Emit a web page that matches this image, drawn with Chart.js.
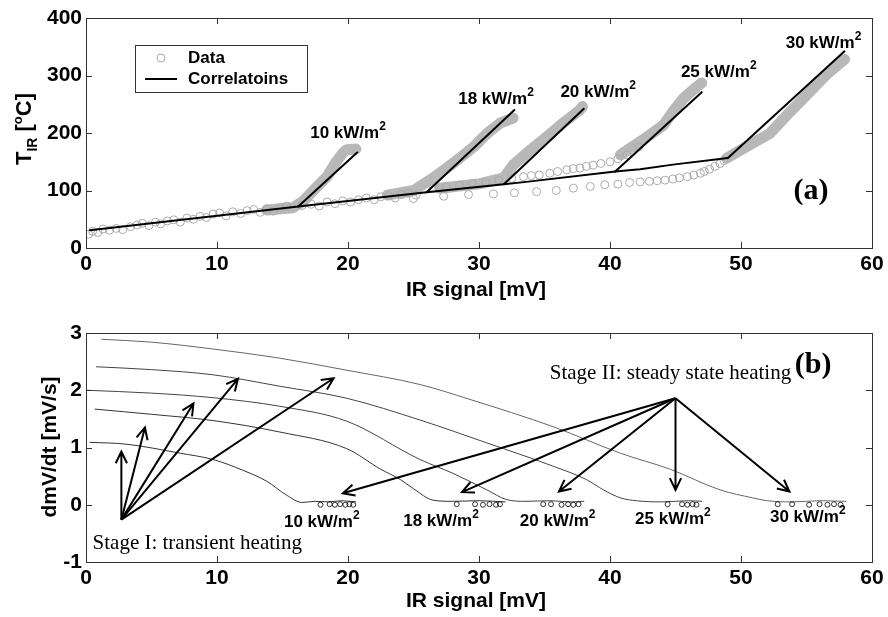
<!DOCTYPE html>
<html>
<head>
<meta charset="utf-8">
<script src="https://cdn.jsdelivr.net/npm/chart.js@4.4.0/dist/chart.umd.min.js"></script>
<style>
  body { margin: 0; background: #fff; width: 888px; height: 617px; overflow: hidden; }
  canvas { position: absolute; left: 0; }
  #topCanvas { top: 0; }
  #botCanvas { top: 300px; }
</style>
</head>
<body>
<canvas id="topCanvas" width="888" height="300"></canvas>
<canvas id="botCanvas" width="888" height="317"></canvas>
<script>
// Axis ticks
var xTicks    = [0, 10, 20, 30, 40, 50, 60];
var topYTicks = [0, 100, 200, 300, 400];
var botYTicks = [-1, 0, 1, 2, 3];

// Heat flux cases (kW/m2)
var fluxes = ["10", "18", "20", "25", "30"];

// (a) measured data, hollow circles [mV, degC]
var dataBase = [[0.2,24],[0.5,29],[0.9,27],[1.3,33],[1.8,31],[2.3,34],[2.8,32],[3.4,37],[3.9,40],[4.3,43],
  [4.8,39],[5.3,45],[5.7,42],[6.2,47],[6.7,49],[7.2,45],[7.7,52],[8.2,50],[8.7,55],[9.2,53],[9.7,59],
  [10.2,61],[10.7,56],[11.2,63],[11.8,60],[12.3,65],[12.8,67],[13.3,62],[13.8,68],[14.3,64],[14.8,70],
  [15.3,73],[16.5,74],[17.2,76],[17.8,73],[18.4,80],[19.0,77],[19.6,82],[20.2,80],[20.8,84],[21.4,87],
  [22.0,84],[22.5,89],[23.1,91],[23.6,87],[24.1,93],[24.6,95],[25.2,92]];
var dataLow = [[25.0,86],[27.3,90],[29.2,93],[31.1,94],[32.7,96],[34.4,98],[35.9,100],[37.2,104],[38.5,107],
  [39.6,110],[40.6,111],[41.5,114],[42.3,115],[43.0,116],[43.6,117],[44.2,118],[44.8,120],[45.3,122],
  [45.9,124],[46.4,127],[46.9,130],[47.2,133],[47.6,137],[48.0,142],[48.4,147],[48.7,152]];
var dataUp = [[26.5,104],[27.5,106],[28.5,109],[29.5,112],[30.5,114],[31.5,118],[32.5,121],[33.4,124],
  [34.0,126],[34.6,127],[35.4,130],[36.0,133],[36.7,136],[37.2,138],[37.7,139],[38.2,142],[38.7,144],
  [39.3,147],[40.0,150],[40.6,155],[41.3,162],[42.2,176]];

// (a) dense data bands of each heating run
var band10 = [[13.8,66],[15.8,70],[16.6,82],[17.4,101],[18.0,115],[18.4,124],[19.1,150],[19.6,165],[19.9,171],[20.6,172]];
var band18 = [[23.0,92],[25.0,100],[26.5,122],[28.0,147],[29.6,176],[30.6,199],[31.6,217],[32.6,226]];
var band20 = [[27.0,104],[30.1,112],[31.9,122],[32.6,144],[33.9,170],[35.2,194],[36.4,217],[37.7,240],[37.9,246]];
var band25 = [[40.8,162],[42.5,188],[44.1,214],[44.8,237],[45.6,260],[46.6,280],[47.0,287]];
var band30 = [[48.9,156],[50.4,176],[52.2,199],[53.5,231],[55.0,266],[56.5,301],[57.9,328]];

// (a) correlations
var corrBase = [[0.3,31],[16.2,72],[26,97],[31.9,111],[33.6,115],[40.4,133],[42.3,137],[44.8,145],[49,156.5]];
var corr10 = [[16.2,72],[20.7,166]];
var corr18 = [[26,97],[32.7,240]];
var corr20 = [[31.9,111],[38,242]];
var corr25 = [[40.4,133],[47,271]];
var corr30 = [[49,156.5],[57.9,342]];

// (b) dmV/dt curves [mV, mV/s]
var rate10 = [[0.3,1.09],[3,1.06],[7.2,0.9],[9.7,0.79],[12,0.6],[13.8,0.41],[15.3,0.17],[16.5,0.04],
  [17.5,0.06],[18.5,0.05],[19.5,0.07],[20.6,0.05]];
var rate18 = [[0.7,1.67],[5,1.58],[9.7,1.47],[14.8,1.27],[19.9,0.98],[22.5,0.62],[24,0.44],[25,0.28],
  [26.5,0.08],[28,0.06],[30,0.07],[32,0.05]];
var rate20 = [[0,2.0],[5,1.95],[9.7,1.87],[14.8,1.72],[19.9,1.46],[25.5,0.79],[28,0.55],[30.6,0.26],
  [32.1,0.09],[33.5,0.06],[35.5,0.07],[37,0.05],[38,0.06]];
var rate25 = [[0.8,2.41],[5,2.36],[9.7,2.27],[14.8,2.07],[19.9,1.86],[25.5,1.48],[30.6,1.08],[35.7,0.67],
  [38.2,0.44],[39.5,0.26],[40.8,0.12],[42,0.07],[44,0.05],[46,0.07],[47,0.06]];
var rate30 = [[1.2,2.89],[5,2.84],[9.7,2.72],[14.8,2.56],[19.9,2.35],[25.5,2.1],[29.3,1.84],[35.7,1.36],
  [40.8,0.9],[44.6,0.62],[48.4,0.26],[50.9,0.12],[52,0.07],[54,0.05],[56,0.07],[58,0.06]];

// (b) end-of-run scatter near zero
var rateEnd = [[17.9,0],[18.6,0.01],[19.0,0],[19.4,0.01],[19.8,0],[20.1,0.01],[20.4,0],
  [28.3,0.01],[29.7,0.01],[30.3,0],[30.8,0.01],[31.3,0],[31.6,0.01],
  [34.9,0.01],[35.5,0.01],[36.3,0],[36.8,0.01],[37.2,0],[37.6,0.01],
  [44.4,0.01],[45.5,0.01],[45.9,0],[46.3,0.01],[46.6,0],
  [52.8,0.01],[53.9,0.01],[55.2,0],[56.0,0.01],[56.6,0],[57.1,0.01],[57.6,0]];

// (b) arrows: tail -> heads
var stage1Tail  = [2.7, -0.26];
var stage1Heads = [[2.7,0.93],[4.5,1.35],[8.2,1.77],[11.6,2.2],[18.9,2.21]];
var stage2Tail  = [45.0, 1.86];
var stage2Heads = [[19.6,0.2],[28.7,0.22],[36.1,0.23],[45.0,0.26],[53.7,0.23]];

var SANS  = "'Liberation Sans', Arial, Helvetica, sans-serif";
var SERIF = "'Liberation Serif', 'Times New Roman', serif";
var GREY  = "#b8b8b8";

function pts(arr) {
  return arr.map(function (p) { return { x: p[0], y: p[1] }; });
}

function lineSet(label, arr, color, width, order) {
  return {
    label: label, data: pts(arr), showLine: true, pointRadius: 0,
    borderColor: color, borderWidth: width, order: order,
    borderCapStyle: "round", borderJoinStyle: "round", fill: false
  };
}

function curveSet(label, arr, color) {
  var ds = lineSet(label, arr, color, 1, 1);
  ds.cubicInterpolationMode = "monotone";
  return ds;
}

function xAxis(height) {
  return {
    type: "linear", min: 0, max: 60,
    afterBuildTicks: function (s) { s.ticks = xTicks.map(function (v) { return { value: v }; }); },
    afterFit: function (s) { s.height = height; },
    grid: { display: false, drawTicks: false }, border: { display: false },
    ticks: { color: "#000", padding: 4, maxRotation: 0, font: { family: SANS, size: 21, weight: "bold" } }
  };
}

function yAxis(vals) {
  return {
    type: "linear", min: vals[0], max: vals[vals.length - 1],
    afterBuildTicks: function (s) { s.ticks = vals.map(function (v) { return { value: v }; }); },
    afterFit: function (s) { s.width = 86; },
    grid: { display: false, drawTicks: false }, border: { display: false },
    ticks: { color: "#000", padding: 4, font: { family: SANS, size: 21, weight: "bold" } }
  };
}

// Box with inward ticks on all four sides
function drawFrame(chart, yVals) {
  var ctx = chart.ctx, a = chart.chartArea;
  var xs = chart.scales.x, ys = chart.scales.y;
  ctx.save();
  ctx.strokeStyle = "#333";
  ctx.lineWidth = 1;
  ctx.strokeRect(a.left + 0.5, a.top + 0.5, a.right - a.left, a.bottom - a.top);
  ctx.beginPath();
  xTicks.forEach(function (v) {
    var px = Math.round(xs.getPixelForValue(v)) + 0.5;
    ctx.moveTo(px, a.bottom); ctx.lineTo(px, a.bottom - 6);
    ctx.moveTo(px, a.top); ctx.lineTo(px, a.top + 6);
  });
  yVals.forEach(function (v) {
    var py = Math.round(ys.getPixelForValue(v)) + 0.5;
    ctx.moveTo(a.left, py); ctx.lineTo(a.left + 6, py);
    ctx.moveTo(a.right, py); ctx.lineTo(a.right - 6, py);
  });
  ctx.stroke();
  ctx.restore();
}

// Text made of pieces with sub/superscripts, centred on cx
function drawPieces(ctx, pieces, cx, cy) {
  var total = 0;
  pieces.forEach(function (p) { ctx.font = p.f; p.w = ctx.measureText(p.t).width; total += p.w; });
  var x = cx - total / 2;
  ctx.textAlign = "left";
  pieces.forEach(function (p) {
    ctx.font = p.f;
    ctx.fillText(p.t, x, cy + (p.dy || 0));
    x += p.w;
  });
}

function fluxLabel(ctx, num, x, y) {
  ctx.textBaseline = "alphabetic";
  drawPieces(ctx, [
    { t: num + " kW/m", f: "bold 17px " + SANS },
    { t: "2", f: "bold 12px " + SANS, dy: -8 }
  ], x, y + 6);
}

function axisTitles(chart, yPieces, yBaseX, yCenter, xCenterY) {
  var ctx = chart.ctx;
  ctx.save();
  ctx.fillStyle = "#000";
  ctx.textBaseline = "middle";
  ctx.textAlign = "center";
  ctx.font = "bold 21px " + SANS;
  ctx.fillText("IR signal [mV]", 476, xCenterY);
  ctx.translate(yBaseX, yCenter);
  ctx.rotate(-Math.PI / 2);
  ctx.textBaseline = "alphabetic";
  drawPieces(ctx, yPieces, 0, 0);
  ctx.restore();
}

function drawArrow(ctx, x1, y1, x2, y2) {
  var ang = Math.atan2(y2 - y1, x2 - x1);
  var len = 13, spread = 0.45;
  ctx.beginPath();
  ctx.moveTo(x1, y1); ctx.lineTo(x2, y2);
  ctx.moveTo(x2 - len * Math.cos(ang - spread), y2 - len * Math.sin(ang - spread));
  ctx.lineTo(x2, y2);
  ctx.lineTo(x2 - len * Math.cos(ang + spread), y2 - len * Math.sin(ang + spread));
  ctx.stroke();
}

// Extra drawing for panel (a)
var topExtras = {
  id: "topExtras",
  afterDraw: function (chart) {
    var ctx = chart.ctx, xs = chart.scales.x, ys = chart.scales.y;
    drawFrame(chart, topYTicks);
    axisTitles(chart, [
      { t: "T", f: "bold 22px " + SANS },
      { t: "IR", f: "bold 14px " + SANS, dy: 6 },
      { t: " [", f: "bold 22px " + SANS },
      { t: "o", f: "bold 13px " + SANS, dy: -9 },
      { t: "C]", f: "bold 22px " + SANS }
    ], 31, 129, 290);

    ctx.save();
    ctx.fillStyle = "#000";
    var labelPos = [[20.0,202],[31.3,261],[39.1,273],[48.3,307],[56.3,359]];
    fluxes.forEach(function (f, i) {
      fluxLabel(ctx, f, xs.getPixelForValue(labelPos[i][0]), ys.getPixelForValue(labelPos[i][1]));
    });

    ctx.font = "bold 30px " + SERIF;
    ctx.textAlign = "left";
    ctx.textBaseline = "middle";
    ctx.fillText("(a)", xs.getPixelForValue(54.0), ys.getPixelForValue(99));

    // legend
    var ds = chart.data.datasets;
    ctx.fillStyle = "#fff";
    ctx.fillRect(135, 45, 172, 47);
    ctx.strokeStyle = "#333";
    ctx.lineWidth = 1;
    ctx.strokeRect(135.5, 45.5, 172, 47);
    ctx.strokeStyle = "#aaa";
    ctx.beginPath();
    ctx.arc(161, 58, 4, 0, Math.PI * 2);
    ctx.stroke();
    ctx.strokeStyle = "#000";
    ctx.lineWidth = 2;
    ctx.beginPath();
    ctx.moveTo(145, 79); ctx.lineTo(177, 79);
    ctx.stroke();
    ctx.fillStyle = "#000";
    ctx.font = "bold 17px " + SANS;
    ctx.fillText(ds[0].label, 188, 58);
    ctx.fillText(ds[6].label, 188, 79);
    ctx.restore();
  }
};

// Extra drawing for panel (b)
var botExtras = {
  id: "botExtras",
  afterDraw: function (chart) {
    var ctx = chart.ctx, xs = chart.scales.x, ys = chart.scales.y;
    drawFrame(chart, botYTicks);
    axisTitles(chart, [
      { t: "dmV/dt [mV/s]", f: "bold 21px " + SANS }
    ], 56, 147, 301);

    ctx.save();
    ctx.fillStyle = "#000";
    var labelPos = [[18.0,-0.29],[27.1,-0.26],[36.0,-0.27],[44.8,-0.23],[55.1,-0.2]];
    fluxes.forEach(function (f, i) {
      fluxLabel(ctx, f, xs.getPixelForValue(labelPos[i][0]), ys.getPixelForValue(labelPos[i][1]));
    });

    ctx.strokeStyle = "#000";
    ctx.lineWidth = 2;
    var t1x = xs.getPixelForValue(stage1Tail[0]), t1y = ys.getPixelForValue(stage1Tail[1]);
    stage1Heads.forEach(function (h) {
      drawArrow(ctx, t1x, t1y, xs.getPixelForValue(h[0]), ys.getPixelForValue(h[1]));
    });
    var t2x = xs.getPixelForValue(stage2Tail[0]), t2y = ys.getPixelForValue(stage2Tail[1]);
    stage2Heads.forEach(function (h) {
      drawArrow(ctx, t2x, t2y, xs.getPixelForValue(h[0]), ys.getPixelForValue(h[1]));
    });

    ctx.textAlign = "left";
    ctx.textBaseline = "alphabetic";
    ctx.font = "21px " + SERIF;
    ctx.fillText("Stage I: transient heating", xs.getPixelForValue(0.5), ys.getPixelForValue(-0.78));
    ctx.fillText("Stage II: steady state heating", xs.getPixelForValue(35.4), ys.getPixelForValue(2.2));
    ctx.font = "bold 30px " + SERIF;
    ctx.fillText("(b)", xs.getPixelForValue(54.1), ys.getPixelForValue(2.3));
    ctx.restore();
  }
};

// Panel (a)
new Chart(document.getElementById("topCanvas"), {
  type: "scatter",
  data: {
    datasets: [
      {
        label: "Data", data: pts(dataBase.concat(dataLow, dataUp)), order: 2,
        pointRadius: 4, pointStyle: "circle", borderColor: "#aaa",
        backgroundColor: "rgba(0,0,0,0)", borderWidth: 1
      },
      lineSet("band10", band10, GREY, 11, 3),
      lineSet("band18", band18, GREY, 11, 3),
      lineSet("band20", band20, GREY, 11, 3),
      lineSet("band25", band25, GREY, 11, 3),
      lineSet("band30", band30, GREY, 11, 3),
      lineSet("Correlatoins", corrBase, "#000", 2, 1),
      lineSet("c10", corr10, "#000", 2, 1),
      lineSet("c18", corr18, "#000", 2, 1),
      lineSet("c20", corr20, "#000", 2, 1),
      lineSet("c25", corr25, "#000", 2, 1),
      lineSet("c30", corr30, "#000", 2, 1)
    ]
  },
  options: {
    responsive: false,
    animation: false,
    layout: { padding: { left: 0, right: 16, top: 18, bottom: 0 } },
    plugins: { legend: { display: false }, tooltip: { enabled: false } },
    scales: { x: xAxis(52), y: yAxis(topYTicks) }
  },
  plugins: [topExtras]
});

// Panel (b)
new Chart(document.getElementById("botCanvas"), {
  type: "scatter",
  data: {
    datasets: [
      curveSet("10 kW/m2", rate10, "#333"),
      curveSet("18 kW/m2", rate18, "#333"),
      curveSet("20 kW/m2", rate20, "#444"),
      curveSet("25 kW/m2", rate25, "#444"),
      curveSet("30 kW/m2", rate30, "#666"),
      {
        label: "end", data: pts(rateEnd), order: 0,
        pointRadius: 2.5, borderColor: "#000",
        backgroundColor: "rgba(0,0,0,0)", borderWidth: 0.8
      }
    ]
  },
  options: {
    responsive: false,
    animation: false,
    layout: { padding: { left: 0, right: 16, top: 33, bottom: 0 } },
    plugins: { legend: { display: false }, tooltip: { enabled: false } },
    scales: { x: xAxis(55), y: yAxis(botYTicks) }
  },
  plugins: [botExtras]
});
</script>
</body>
</html>
